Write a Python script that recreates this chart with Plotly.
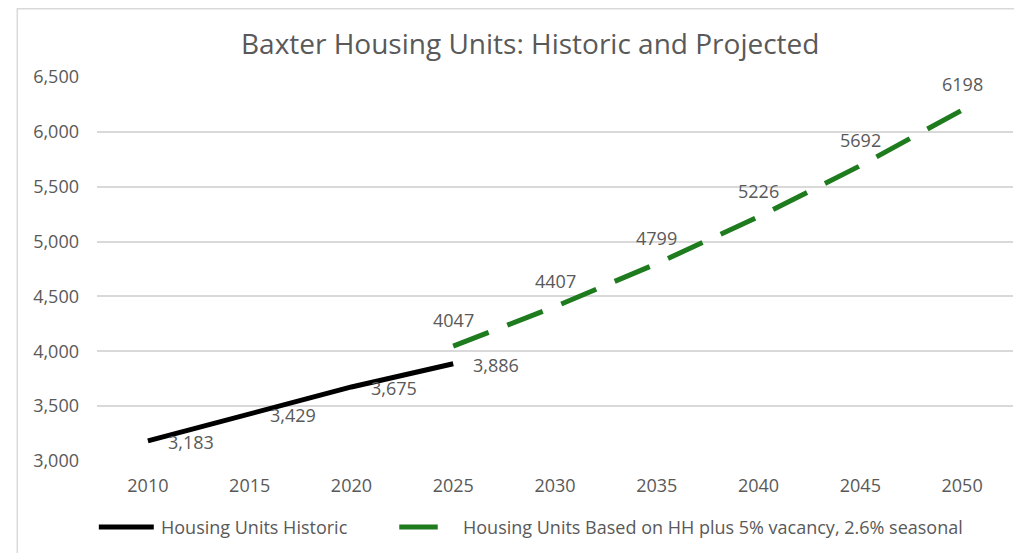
import plotly.graph_objects as go

years = ["2010", "2015", "2020", "2025", "2030", "2035", "2040", "2045", "2050"]

hist_years = ["2010", "2015", "2020", "2025"]
hist_units = [3183, 3429, 3675, 3886]
hist_labels = ["3,183", "3,429", "3,675", "3,886"]

proj_years = ["2025", "2030", "2035", "2040", "2045", "2050"]
proj_units = [4047, 4407, 4799, 5226, 5692, 6198]
proj_labels = ["4047", "4407", "4799", "5226", "5692", "6198"]

y_ticks = [3000, 3500, 4000, 4500, 5000, 5500, 6000, 6500]

hist_name = "Housing Units Historic"
proj_name = "Housing Units Based on HH plus 5% vacancy, 2.6% seasonal"

grey = "#595959"
green = "#1e7b1e"
font_family = "Open Sans, Lato, sans-serif"

fig = go.Figure()

fig.add_trace(go.Scatter(
    x=hist_years,
    y=hist_units,
    mode="lines",
    name=hist_name,
    line=dict(color="black", width=5),
    cliponaxis=False,
))

fig.add_trace(go.Scatter(
    x=proj_years,
    y=proj_units,
    mode="lines",
    name=proj_name,
    line=dict(color=green, width=5, dash="38px,20px"),
    cliponaxis=False,
))

# data labels: historic to the right of the point, projection above it
# (category axis -> annotations are placed by category index)
annotations = []
for x, y, t in zip(hist_years, hist_units, hist_labels):
    annotations.append(dict(
        x=years.index(x), y=y, text=t, showarrow=False,
        xanchor="left", yanchor="middle", xshift=18, yshift=-1,
        font=dict(size=18, color=grey),
    ))
for x, y, t in zip(proj_years, proj_units, proj_labels):
    annotations.append(dict(
        x=years.index(x), y=y, text=t, showarrow=False,
        xanchor="center", yanchor="middle", yshift=26,
        font=dict(size=18, color=grey),
    ))

# legend drawn by hand so the samples match the original
annotations.append(dict(
    x=0.068, y=-0.172, xref="paper", yref="paper", text=hist_name,
    showarrow=False, xanchor="left", yanchor="middle",
    font=dict(size=18, color=grey),
))
annotations.append(dict(
    x=0.397, y=-0.172, xref="paper", yref="paper", text=proj_name,
    showarrow=False, xanchor="left", yanchor="middle",
    font=dict(size=18, color=grey),
))
fig.add_shape(
    type="line", xref="paper", yref="paper",
    x0=0.002, x1=0.062, y0=-0.172, y1=-0.172,
    line=dict(color="black", width=5),
)
fig.add_shape(
    type="line", xref="paper", yref="paper",
    x0=0.330, x1=0.372, y0=-0.172, y1=-0.172,
    line=dict(color=green, width=5),
)

# chart border (right and bottom edges fall outside the crop)
fig.add_shape(
    type="rect", xref="paper", yref="paper",
    x0=-0.087, x1=1.05, y0=-0.3, y1=1.178,
    line=dict(color="#d9d9d9", width=1.5),
    layer="below",
)

fig.update_layout(
    width=1014,
    height=545,
    title=dict(
        text="Baxter Housing Units: Historic and Projected",
        x=0.515, xanchor="center", xref="container",
        y=0.934, yanchor="middle", yref="container",
        font=dict(size=28, color=grey, family=font_family),
    ),
    xaxis=dict(
        type="category",
        categoryorder="array",
        categoryarray=years,
        range=[-0.5, 8.5],
        showgrid=False,
        showline=False,
        ticks="",
        ticklabelstandoff=12,
        tickfont=dict(size=18, color=grey),
    ),
    yaxis=dict(
        range=[3000, 6500],
        tickvals=y_ticks,
        tickformat=",d",
        showgrid=True,
        gridcolor="#d9d9d9",
        gridwidth=1.5,
        zeroline=False,
        showline=False,
        ticks="",
        ticklabelstandoff=17,
        tickfont=dict(size=18, color=grey),
    ),
    annotations=annotations,
    showlegend=False,
    font=dict(family=font_family, color=grey),
    paper_bgcolor="white",
    plot_bgcolor="white",
    margin=dict(t=69, l=89, r=9, b=92),
)

fig.write_html("out.html")
